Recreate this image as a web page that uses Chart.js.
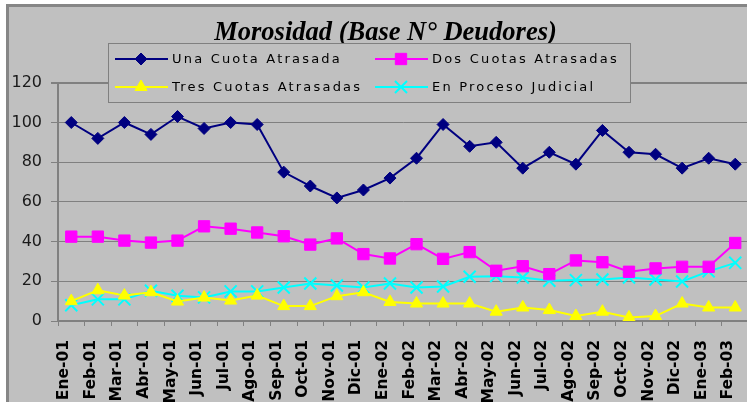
<!DOCTYPE html>
<html>
<head>
<meta charset="utf-8">
<script src="https://cdn.jsdelivr.net/npm/chart.js@4"></script>
<style>
  html, body { margin: 0; padding: 0; background: #ffffff; overflow: hidden; }
  #frame {
    position: absolute; left: 6px; top: 4px; width: 760px; height: 410px;
    background: #c0c0c0; border-top: 3px solid #868686; border-left: 3px solid #868686;
  }
  #morosidad { position: absolute; left: 0; top: 0; }
</style>
</head>
<body>
<div id="frame">
  <canvas id="morosidad" width="750" height="395"></canvas>
</div>
<script>
// ---- data ----
const chartTitle = 'Morosidad (Base N° Deudores)';

const months = [
  'Ene-01', 'Feb-01', 'Mar-01', 'Abr-01', 'May-01', 'Jun-01', 'Jul-01', 'Ago-01',
  'Sep-01', 'Oct-01', 'Nov-01', 'Dic-01', 'Ene-02', 'Feb-02', 'Mar-02', 'Abr-02',
  'May-02', 'Jun-02', 'Jul-02', 'Ago-02', 'Sep-02', 'Oct-02', 'Nov-02', 'Dic-02',
  'Ene-03', 'Feb-03'
];

const unaCuota = [100, 92, 100, 94, 103, 97, 100, 99, 75, 68, 62, 66, 72, 82, 99, 88, 90, 77, 85, 79, 96, 85, 84, 77, 82, 79];
const dosCuotas = [42.5, 42.5, 40.5, 39.5, 40.5, 47.7, 46.5, 44.6, 42.7, 38.5, 41.6, 33.7, 31.5, 38.7, 31.3, 34.7, 25.3, 27.6, 23.6, 30.5, 29.6, 24.8, 26.5, 27.3, 27.3, 39.3];
const tresCuotas = [10, 15.5, 12.8, 14.5, 9.8, 11.8, 10.3, 12.8, 7.5, 7.5, 12.5, 14.5, 9.6, 8.8, 8.8, 8.8, 4.7, 6.8, 5.5, 2.5, 4.7, 1.8, 2.5, 8.8, 6.8, 6.8];
const procesoJudicial = [7.9, 10.9, 10.9, 15.2, 12.7, 11.9, 14.9, 14.9, 16.9, 18.9, 17.9, 16.9, 18.9, 16.9, 17.4, 22.3, 22.6, 21.9, 20.3, 20.6, 20.9, 21.9, 20.9, 19.9, 25, 29.3];

const yTicks = [0, 20, 40, 60, 80, 100, 120];

// ===================================
// LEGEND BOX (Excel style, drawn over the plot)
// ===================================
const boxLegend = {
  id: 'boxLegend',
  afterDraw(chart) {
    const ctx = chart.ctx;
    const left = 99, top = 36, right = 621, bottom = 95;
    ctx.save();
    ctx.fillStyle = '#c0c0c0';
    ctx.fillRect(left, top, right - left, bottom - top);
    ctx.strokeStyle = '#808080';
    ctx.lineWidth = 1;
    ctx.strokeRect(left + 0.5, top + 0.5, right - left, bottom - top);

    const slots = [
      { x: 106, y: 52 }, { x: 366, y: 52 },
      { x: 106, y: 80 }, { x: 366, y: 80 }
    ];
    ctx.font = '13px "DejaVu Sans"';
    ctx.textBaseline = 'middle';
    ctx.letterSpacing = '2.2px';
    chart.data.datasets.forEach((ds, i) => {
      const s = slots[i];
      ctx.strokeStyle = ds.borderColor;
      ctx.lineWidth = 2;
      ctx.beginPath();
      ctx.moveTo(s.x, s.y);
      ctx.lineTo(s.x + 53, s.y);
      ctx.stroke();
      ctx.fillStyle = ds.pointBackgroundColor;
      ctx.strokeStyle = ds.pointBorderColor;
      ctx.lineWidth = ds.pointBorderWidth;
      Chart.helpers.drawPoint(ctx, {
        pointStyle: ds.pointStyle,
        radius: ds.pointRadius,
        rotation: 0,
        borderWidth: ds.pointBorderWidth
      }, s.x + 26, s.y);
      ctx.fillStyle = '#000000';
      ctx.fillText(ds.label, s.x + 57, s.y + 1);
    });
    ctx.restore();
  }
};

function series(label, data, color, style, radius) {
  return {
    label: label,
    data: data,
    borderColor: color,
    backgroundColor: color,
    borderWidth: 2,
    pointStyle: style,
    pointRadius: radius,
    pointBackgroundColor: color,
    pointBorderColor: color,
    pointBorderWidth: style === 'crossRot' ? 2 : 1,
    tension: 0
  };
}

new Chart(document.getElementById('morosidad'), {
  type: 'line',
  data: {
    labels: months,
    datasets: [
      series('Una Cuota Atrasada', unaCuota, '#000080', 'rectRot', 6),
      series('Dos Cuotas Atrasadas', dosCuotas, '#ff00ff', 'rect', 8),
      series('Tres Cuotas Atrasadas', tresCuotas, '#ffff00', 'triangle', 7),
      series('En Proceso Judicial', procesoJudicial, '#00ffff', 'crossRot', 8.5)
    ]
  },
  options: {
    responsive: false,
    animation: false,
    devicePixelRatio: 1,
    layout: { padding: { left: 0, right: -3, top: 0, bottom: 0 } },
    plugins: {
      legend: { display: false },
      tooltip: { enabled: false },
      title: {
        display: true,
        text: chartTitle,
        color: '#000000',
        font: { family: '"Liberation Serif"', size: 26.5, weight: 'bold', style: 'italic', lineHeight: 1.2 },
        padding: { top: 10, bottom: 34 }
      }
    },
    scales: {
      x: {
        offset: true,
        afterFit(scale) {
          scale.height = 81;
          // the plot runs past the right edge, so no room is kept for the last label
          scale.paddingLeft = 0;
          scale.paddingRight = 0;
        },
        grid: {
          offset: true,
          drawOnChartArea: false,
          drawTicks: true,
          tickLength: 5,
          color: '#808080'
        },
        border: { color: '#808080', width: 2 },
        ticks: {
          autoSkip: false,
          minRotation: 90,
          maxRotation: 90,
          padding: 14,
          labelOffset: -7,
          color: '#000000',
          font: { family: '"DejaVu Sans"', size: 15.5, weight: 'bold' }
        }
      },
      y: {
        min: 0,
        max: 120,
        afterFit(scale) { scale.width = 49; },
        afterBuildTicks(scale) { scale.ticks = yTicks.map(v => ({ value: v })); },
        grid: {
          color: '#808080',
          lineWidth: ctx => (ctx.tick && ctx.tick.value === 120 ? 2 : 1),
          tickLength: 7
        },
        border: { color: '#808080', width: 2 },
        ticks: {
          padding: 9,
          color: '#1a1a1a',
          font: { family: '"DejaVu Sans"', size: 16 }
        }
      }
    }
  },
  plugins: [boxLegend]
});
</script>
</body>
</html>
